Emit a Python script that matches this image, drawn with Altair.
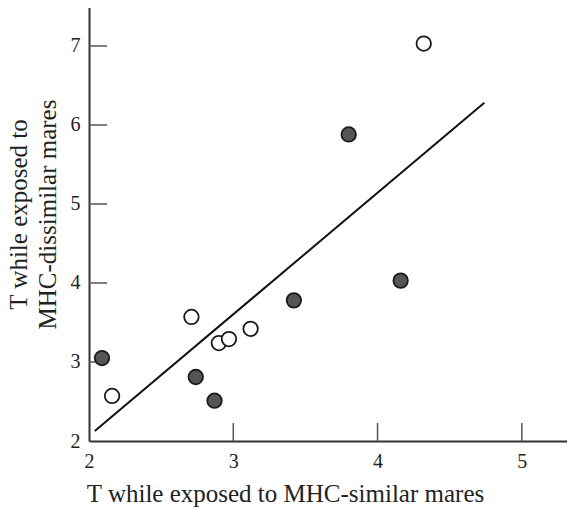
import altair as alt
import pandas as pd

# Data
filled_x = [2.09, 2.74, 2.87, 3.42, 3.80, 4.16]
filled_y = [3.05, 2.81, 2.51, 3.78, 5.88, 4.03]
open_x = [2.16, 2.71, 2.90, 2.97, 3.12, 4.32]
open_y = [2.57, 3.57, 3.24, 3.29, 3.42, 7.03]
x_ticks = [2, 3, 4, 5]
y_ticks = [2, 3, 4, 5, 6, 7]
fit_extent = [2.04, 4.74]

df = pd.DataFrame({
    "x": filled_x + open_x,
    "y": filled_y + open_y,
    "group": ["filled"] * len(filled_x) + ["open"] * len(open_x),
})

W, H = 478, 441
FONT = "Liberation Serif"
xs = alt.Scale(domain=[2, 5.313], nice=False, zero=False)
ys = alt.Scale(domain=[2, 7.582], nice=False, zero=False)

xaxis = alt.Axis(
    values=x_ticks, ticks=False, tickSize=0, grid=False,
    labelPadding=10, labelFlush=False, labelOverlap=False,
    title="T while exposed to MHC-similar mares",
    titleX=196, titleY=60, titleAlign="center", titleBaseline="alphabetic",
)
yaxis = alt.Axis(
    values=y_ticks, ticks=False, tickSize=0, grid=False,
    labelPadding=9, labelFlush=False, labelOverlap=False,
    title=["T while exposed to", "MHC-dissimilar mares"],
    titleX=-63, titleY=214, titleAlign="center", titleBaseline="alphabetic",
    titleLineHeight=29,
)

fit = alt.Chart(df).transform_regression(
    "x", "y", extent=fit_extent
).mark_line(color="#111111", strokeWidth=2).encode(
    x=alt.X("x:Q", scale=xs, axis=xaxis),
    y=alt.Y("y:Q", scale=ys, axis=yaxis),
)

pts = alt.Chart(df).mark_point(filled=False, size=210, opacity=1).encode(
    x=alt.X("x:Q", scale=xs, axis=xaxis),
    y=alt.Y("y:Q", scale=ys, axis=yaxis),
    fill=alt.Fill("group:N", scale=alt.Scale(domain=["filled", "open"], range=["#555555", "#ffffff"]), legend=None),
    shape=alt.value("circle"),
    stroke=alt.value("#1a1a1a"),
    strokeWidth=alt.value(1.8),
    fillOpacity=alt.value(1),
)

xt = alt.Chart(pd.DataFrame({"x": x_ticks[1:]})).mark_rule(color="#555555", strokeWidth=1.5).encode(
    x=alt.X("x:Q", scale=xs, axis=xaxis),
    y=alt.value(H),
    y2=alt.value(H - 18),
)
yt = alt.Chart(pd.DataFrame({"y": y_ticks[1:]})).mark_rule(color="#555555", strokeWidth=1.5).encode(
    y=alt.Y("y:Q", scale=ys, axis=yaxis),
    x=alt.value(0),
    x2=alt.value(18),
)

chart = alt.layer(xt, yt, fit, pts).properties(
    width=W, height=H,
    autosize=alt.AutoSizeParams(type="none"),
    padding={"left": 81, "top": -8, "right": 0, "bottom": 67},
).configure_view(stroke=None).configure(background="white").configure_axis(
    domainColor="#333333", domainWidth=2,
    labelFont=FONT, labelFontSize=20, labelColor="#222222",
    titleFont=FONT, titleFontSize=25, titleFontWeight="normal", titleColor="#222222",
)

chart.save("out.html", embed_options={"renderer": "svg", "actions": False})
